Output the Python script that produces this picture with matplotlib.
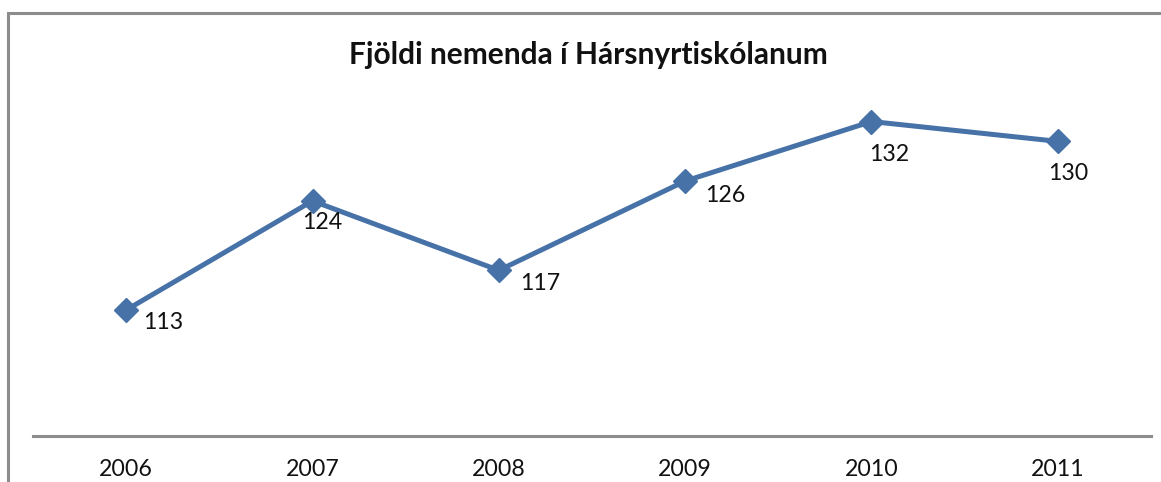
import matplotlib
matplotlib.use("Agg")
import matplotlib.pyplot as plt
from matplotlib.patches import Rectangle

years = ["2006", "2007", "2008", "2009", "2010", "2011"]
students = [113, 124, 117, 126, 132, 130]
title = "Fjöldi nemenda í Hársnyrtiskólanum"

# label offsets in pixels (dx, dy) relative to the point
label_offsets = [(37, -12), (10, -22), (41, -13), (40, -14), (18, -33), (10, -32)]

W, H = 1161, 482
fig = plt.figure(figsize=(W / 100, H / 100), dpi=100)
fig.patch.set_facecolor("white")

# outer chart border (continues off the image)
fig.patches.append(Rectangle((7.5 / W, -0.1), 1.2, (H - 12.5) / H + 0.1,
                             transform=fig.transFigure, fill=False,
                             edgecolor="#8c8c8c", linewidth=2.2))

ax = fig.add_axes([33 / W, 1 - 436 / H, (1151 - 33) / W, (436 - 38) / H])
x = list(range(len(years)))
ax.plot(x, students, color="#4672A8", linewidth=3.6, marker="D",
        markersize=12.5, markerfacecolor="#4672A8", markeredgecolor="#4672A8",
        solid_joinstyle="round", zorder=3)
ax.set_xlim(-0.5, len(years) - 0.5)
ax.set_ylim(100.3, 140.42)
ax.set_yticks([])
ax.set_xticks(x)
ax.set_xticklabels(years, fontsize=16.7, family=["Lato", "DejaVu Sans"], color="#111111")
ax.tick_params(axis="x", length=0, pad=16.5)
for s in ["top", "right", "left"]:
    ax.spines[s].set_visible(False)
ax.spines["bottom"].set_color("#8c8c8c")
ax.spines["bottom"].set_linewidth(2.2)
ax.patch.set_alpha(0)

for xi, v, (dx, dy) in zip(x, students, label_offsets):
    ax.annotate(str(v), (xi, v), xytext=(dx * 0.72, dy * 0.72), textcoords="offset points",
                ha="center", va="center", fontsize=16.7,
                family=["Lato", "DejaVu Sans"], color="#111111")

fig.text(588 / W, 1 - 55 / H, title, ha="center", va="center", fontsize=21.5,
         fontweight="bold", family=["Lato", "DejaVu Sans"], color="#111111")

fig.savefig("out.png", dpi=100)
